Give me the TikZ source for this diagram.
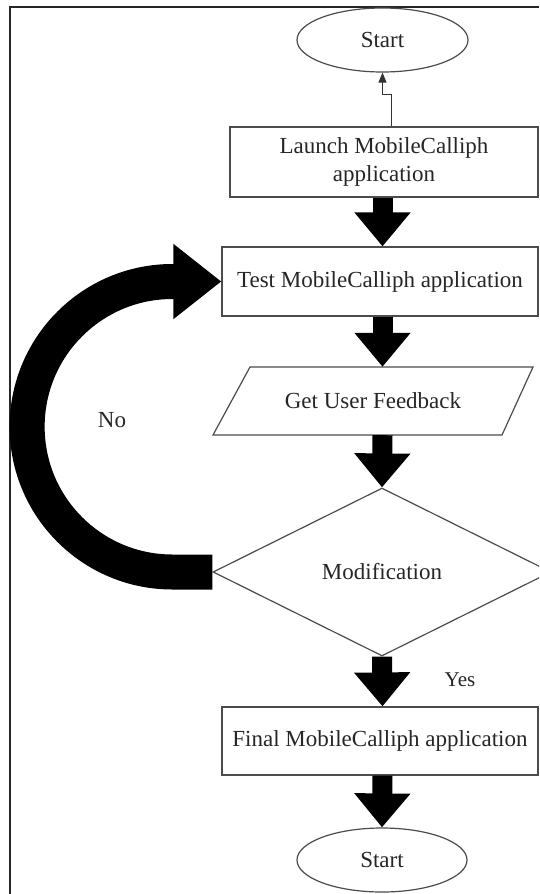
\documentclass[tikz,border=0pt]{standalone}
\usepackage{fontspec}
\setmainfont{Liberation Serif}
\usetikzlibrary{arrows.meta,shapes.geometric}
\begin{document}
\begin{tikzpicture}[x=1pt,y=-1pt,
  every node/.style={font=\fontsize{23}{28}\selectfont, text=black!85},
  outline/.style={draw=black!70, line width=1.2pt},
  box/.style={outline, rectangle, minimum width=316pt, minimum height=69pt, inner sep=2pt, align=center},
  term/.style={outline, ellipse, minimum width=171pt, minimum height=64pt, inner sep=0pt},
  bigarrow/.style={line width=20pt, -{Triangle[length=34pt,width=54pt]}},
  noarrow/.style={line width=35pt, -{Triangle[length=48pt,width=72pt]}},
  thinarrow/.style={draw=black!80, line width=1pt, -{Triangle[length=10pt,width=8pt]}},
  lbl/.style={inner sep=0pt}
]
\fill[white] (0,0) rectangle (539,894);
\clip (0,0) rectangle (539,894);
% frame
\draw[line width=2pt, black!85] (10,894) -- (10,7) -- (539,7);

% nodes
\node[term] (tops) at (382.5,40) {Start};
\node[box, minimum width=308pt, minimum height=70pt] (launch) at (384,162) {Launch MobileCalliph\\application};
\node[box] (test) at (380,281.5) {Test MobileCalliph application};
\node[minimum width=250pt, minimum height=68pt, inner sep=0pt] (get) at (373,401) {Get User Feedback};
\draw[outline] (250,367) -- (533,367) -- (502,435) -- (213,435) -- cycle;
\node[outline, diamond, minimum width=338pt, minimum height=168pt, inner sep=0pt] (mod) at (382,572) {Modification};
\node[box, minimum height=68pt] (final) at (380,741) {Final MobileCalliph application};
\node[term, minimum width=170pt] (ends) at (382,860) {Start};

% labels
\node[lbl] (no) at (112,420) {No};
\node[lbl, font=\fontsize{21}{25}\selectfont] (yes) at (460,680) {Yes};

% connectors
\draw[thinarrow] ([xshift=7pt]launch.north) -- ++(0,-32) -| (tops.south);
\draw[bigarrow] (launch.south -| tops) -- (test.north -| tops);
\draw[bigarrow] (test.south -| tops) -- (get.north -| tops);
\draw[bigarrow] (get.south -| tops) -- (mod.north);
\draw[bigarrow] (mod.south) -- (final.north -| tops);
\draw[bigarrow] (final.south -| tops) -- (ends.north);
\draw[noarrow] (mod.west) -- ++(-40,0) arc[start angle=90, end angle=270, radius=145.25] -- (test.west);
\end{tikzpicture}
\end{document}
